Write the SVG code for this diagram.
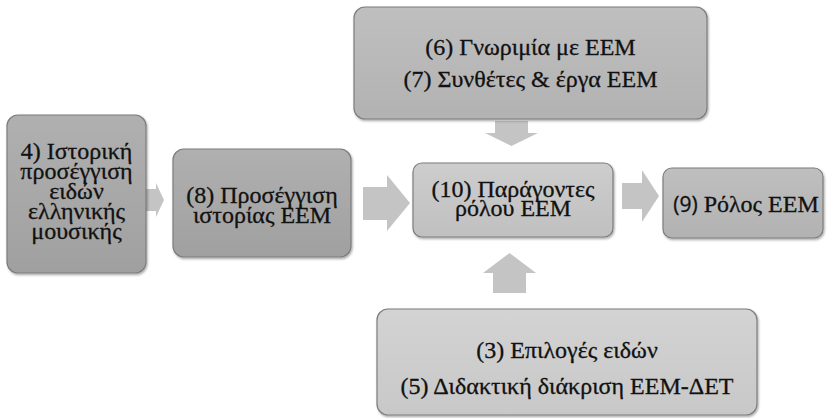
<svg xmlns="http://www.w3.org/2000/svg" width="827" height="418" viewBox="0 0 827 418">
  <defs>
    <linearGradient id="gDark" x1="0" y1="0" x2="0" y2="1">
      <stop offset="0" stop-color="#b0b0b0"/>
      <stop offset="1" stop-color="#a0a0a0"/>
    </linearGradient>
    <linearGradient id="gMid" x1="0" y1="0" x2="0" y2="1">
      <stop offset="0" stop-color="#bfbfbf"/>
      <stop offset="1" stop-color="#b2b2b2"/>
    </linearGradient>
    <linearGradient id="gLight" x1="0" y1="0" x2="0" y2="1">
      <stop offset="0" stop-color="#cdcdcd"/>
      <stop offset="1" stop-color="#c0c0c0"/>
    </linearGradient>
    <linearGradient id="gPale" x1="0" y1="0" x2="0" y2="1">
      <stop offset="0" stop-color="#d3d3d3"/>
      <stop offset="1" stop-color="#c8c8c8"/>
    </linearGradient>
    <filter id="shadow" x="-5%" y="-5%" width="110%" height="115%">
      <feDropShadow dx="1" dy="1.5" stdDeviation="1" flood-color="#000" flood-opacity="0.35"/>
    </filter>
  </defs>
  <style>
    .box { stroke: #7d7d7d; stroke-width: 1.2; filter: url(#shadow); }
    .arrow { fill: #c4c4c4; stroke: none; }
    .lbl { font-family: 'Liberation Serif', 'Times New Roman', serif; font-size: 24px; fill: #111; stroke: #111; stroke-width: 0.3; text-anchor: middle; }
    .num { font-family: 'Open Sans', 'Liberation Sans', sans-serif; font-size: 21px; }
  </style>

  <rect width="827" height="418" fill="#ffffff"/>

  <!-- block arrows between the boxes -->
  <g id="connectors">
    <path class="arrow" d="M146,189 H156 V183 L164,200 L156,217 V211 H146 Z"/>
    <path class="arrow" d="M363,187 H387 V175 L410,203 L387,231 V220 H363 Z"/>
    <path class="arrow" d="M622,183 H642 V170 L659,196 L642,222 V209 H622 Z"/>
    <path class="arrow" d="M495,121 H528 V133 H538 L511.5,146 L485,133 H495 Z"/>
    <path class="arrow" d="M493,293 H526 V273 H536 L509.5,253 L483,273 H493 Z"/>
  </g>

  <g id="node-4">
    <rect class="box" x="7" y="115" width="139" height="158" rx="11" fill="url(#gDark)"/>
    <text class="lbl" x="76.5" y="159">4) Ιστορική</text>
    <text class="lbl" x="76.5" y="179">προσέγγιση</text>
    <text class="lbl" x="76.5" y="199">ειδών</text>
    <text class="lbl" x="76.5" y="219">ελληνικής</text>
    <text class="lbl" x="76.5" y="239">μουσικής</text>
  </g>

  <g id="node-8">
    <rect class="box" x="173" y="149" width="178" height="108" rx="11" fill="url(#gDark)"/>
    <text class="lbl" x="262" y="203">(8) Προσέγγιση</text>
    <text class="lbl" x="262" y="223">ιστορίας ΕΕΜ</text>
  </g>

  <g id="node-10">
    <rect class="box" x="413" y="163" width="200" height="74" rx="9" fill="url(#gLight)"/>
    <text class="lbl" x="513" y="197">(10) Παράγοντες</text>
    <text class="lbl" x="513" y="216">ρόλου ΕΕΜ</text>
  </g>

  <g id="node-9">
    <rect class="box" x="663" y="168" width="160" height="70" rx="9" fill="url(#gMid)"/>
    <text class="lbl" x="746" y="212"><tspan class="num">(9)</tspan> Ρόλος ΕΕΜ</text>
  </g>

  <g id="node-6-7">
    <rect class="box" x="354" y="7" width="353" height="112" rx="11" fill="url(#gMid)"/>
    <text class="lbl" x="530.5" y="55">(6) Γνωριμία  με ΕΕΜ</text>
    <text class="lbl" x="530.5" y="87">(7) Συνθέτες &amp; έργα ΕΕΜ</text>
  </g>

  <g id="node-3-5">
    <rect class="box" x="377" y="309" width="380" height="106" rx="11" fill="url(#gPale)"/>
    <text class="lbl" x="567" y="358">(3) Επιλογές ειδών</text>
    <text class="lbl" x="567" y="394">(5) Διδακτική διάκριση ΕΕΜ-ΔΕΤ</text>
  </g>
</svg>
